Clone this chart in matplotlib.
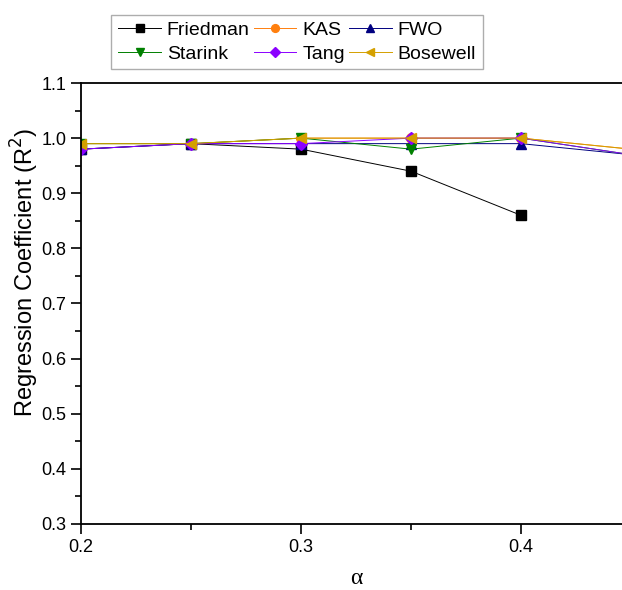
import matplotlib
matplotlib.use("Agg")
import matplotlib.pyplot as plt
from matplotlib.ticker import MultipleLocator

plt.rcParams['font.family'] = ['Liberation Sans', 'DejaVu Sans']

alpha = [0.2, 0.25, 0.3, 0.35, 0.4, 0.45]
friedman = [0.98, 0.99, 0.98, 0.94, 0.86]
kas = [0.99, 0.99, 1.00, 1.00, 1.00, 0.98]
fwo = [0.98, 0.99, 0.99, 0.99, 0.99, 0.97]
starink = [0.99, 0.99, 1.00, 0.98, 1.00, 0.97]
tang = [0.98, 0.99, 0.99, 1.00, 1.00, 0.97]
bosewell = [0.99, 0.99, 1.00, 1.00, 1.00, 0.98]

series = [
    ("Friedman", friedman, "black", "s", 7),
    ("KAS", kas, "#ff7f0e", "o", 7),
    ("FWO", fwo, "#000080", "^", 7),
    ("Starink", starink, "#008000", "v", 7),
    ("Tang", tang, "#8b00ff", "D", 6),
    ("Bosewell", bosewell, "#d4a000", "<", 7),
]

fig = plt.figure(figsize=(6.22, 5.90), dpi=100)
ax = fig.add_axes([81 / 622, 66 / 590, 550 / 622, 441 / 590])

handles = {}
for name, vals, color, marker, ms in series:
    h, = ax.plot(alpha[:len(vals)], vals, color=color, marker=marker,
                 markersize=ms, linewidth=0.7, label=name)
    handles[name] = h

ax.set_xlim(0.2, 0.45)
ax.set_ylim(0.3, 1.1)
ax.xaxis.set_major_locator(MultipleLocator(0.1))
ax.xaxis.set_minor_locator(MultipleLocator(0.05))
ax.yaxis.set_major_locator(MultipleLocator(0.1))
ax.yaxis.set_minor_locator(MultipleLocator(0.05))
ax.tick_params(which='major', direction='out', length=7, width=1.2, labelsize=13)
ax.tick_params(which='minor', direction='out', length=4, width=1.2)
for s in ax.spines.values():
    s.set_linewidth(1.3)

ax.set_ylabel("Regression Coefficient (R$^2$)", fontsize=17)
ax.yaxis.set_label_coords(-0.073, 0.57)
ax.set_xlabel("α", fontsize=17, family=['Liberation Serif', 'DejaVu Serif'], labelpad=9)

# three columns, filled row by row
order = ["Friedman", "Starink", "KAS", "Tang", "FWO", "Bosewell"]
leg = fig.legend([handles[n] for n in order], order, loc='center',
                 bbox_to_anchor=(297 / 622, 1 - 42 / 590), ncol=3,
                 fontsize=14, frameon=True, fancybox=False, edgecolor='#999999',
                 handlelength=2.2, columnspacing=0.2, handletextpad=0.3,
                 borderpad=0.35, labelspacing=0.3, markerscale=0.8)
leg.get_frame().set_linewidth(1.0)

fig.savefig("out.png", dpi=100)
